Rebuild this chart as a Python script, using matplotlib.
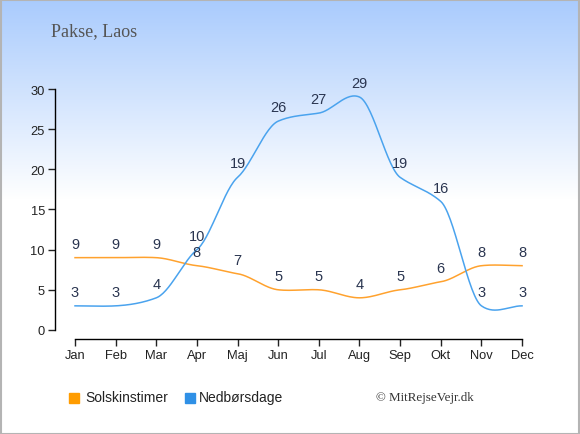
import numpy as np
import matplotlib
matplotlib.use('Agg')
import matplotlib.pyplot as plt
from matplotlib.patches import Rectangle

# Data
months = ['Jan', 'Feb', 'Mar', 'Apr', 'Maj', 'Jun', 'Jul', 'Aug', 'Sep', 'Okt', 'Nov', 'Dec']
sol = [9, 9, 9, 8, 7, 5, 5, 4, 5, 6, 8, 8]
regn = [3, 3, 4, 10, 19, 26, 27, 29, 19, 16, 3, 3]

ORANGE = '#ffa22e'
BLUE = '#4aa3ee'
LBL = '#2a3550'


def smooth(y, k=0.55, n=30):
    """ Cardinal spline through the points (only for drawing). """
    y = np.asarray(y, dtype=float)
    N = y.size
    m = np.zeros(N)
    m[1:-1] = k * (y[2:] - y[:-2]) / 2
    m[0] = k * (y[1] - y[0])
    m[-1] = k * (y[-1] - y[-2])
    xs, ys = [], []
    t = np.linspace(0, 1, n, endpoint=False)
    for i in range(N - 1):
        h00 = 2*t**3 - 3*t**2 + 1
        h10 = t**3 - 2*t**2 + t
        h01 = -2*t**3 + 3*t**2
        h11 = t**3 - t**2
        xs.append(i + t)
        ys.append(h00*y[i] + h10*m[i] + h01*y[i+1] + h11*m[i+1])
    xs.append([N - 1])
    ys.append([y[-1]])
    return np.concatenate(xs), np.concatenate(ys)


fig = plt.figure(figsize=(5.8, 4.35), dpi=100)

# Baggrund med gradient
bg = fig.add_axes([0, 0, 1, 1], zorder=-10)
H = 435
top = np.array([169, 203, 253]) / 255.0
frac = np.clip(np.arange(H) / 200.0, 0, 1)[:, None]
grad = top[None, :] * (1 - frac) + np.ones(3)[None, :] * frac
bg.imshow(grad[:, None, :].repeat(2, axis=1), aspect='auto', extent=[0, 1, 0, 1])
bg.set_xlim(0, 1)
bg.set_ylim(0, 1)
bg.axis('off')
bg.add_patch(Rectangle((0.001, 0.001), 0.998, 0.997, fill=False,
                       edgecolor='#b4b4b4', lw=1.5, transform=bg.transAxes))

ax = fig.add_axes([0.0943, 0.2189, 0.8198, 0.5742])
ax.patch.set_alpha(0)

x = np.arange(len(months))
xs, ys = smooth(sol)
ax.plot(xs, ys, color=ORANGE, lw=1.1)
xs, ys = smooth(regn)
ax.plot(xs, ys, color=BLUE, lw=1.1)

for i in range(len(months)):
    ax.annotate(str(sol[i]), (x[i], sol[i]), xytext=(0, 10), textcoords='offset points',
                ha='center', va='center', fontsize=10.5, color=LBL,
                family='Liberation Sans', annotation_clip=False)
    ax.annotate(str(regn[i]), (x[i], regn[i]), xytext=(0, 10), textcoords='offset points',
                ha='center', va='center', fontsize=10.5, color=LBL,
                family='Liberation Sans', annotation_clip=False)

ax.set_xlim(-0.5, 11.2)
ax.set_ylim(-1.1, 30)
ax.set_xticks(x)
ax.set_xticklabels(months)
ax.set_yticks([0, 5, 10, 15, 20, 25, 30])
for s in ['top', 'right']:
    ax.spines[s].set_visible(False)
ax.spines['left'].set_bounds(0, 30)
ax.spines['bottom'].set_bounds(0, 11)
ax.spines['left'].set_linewidth(1)
ax.spines['bottom'].set_linewidth(1)
ax.tick_params(length=5, width=1, labelsize=9.3, colors='#222222', pad=2)
for lab in ax.get_xticklabels() + ax.get_yticklabels():
    lab.set_family('Liberation Sans')

# Titel og tekst
fig.text(51 / 580, 1 - 32 / 435, 'Pakse, Laos', fontsize=13, color='#555555',
         family='Liberation Serif', va='center', ha='left')

fig.patches.append(Rectangle((69 / 580, 1 - 404 / 435), 10 / 580, 10 / 435,
                             color='#ff9c00', transform=fig.transFigure, figure=fig))
fig.text(85 / 580, 1 - 398 / 435, 'Solskinstimer', fontsize=10, color='#222222',
         family='Liberation Sans', va='center')
fig.patches.append(Rectangle((185 / 580, 1 - 404 / 435), 10 / 580, 10 / 435,
                             color='#2f90e6', transform=fig.transFigure, figure=fig))
fig.text(199 / 580, 1 - 398 / 435, 'Nedbørsdage', fontsize=10, color='#222222',
         family='Liberation Sans', va='center')
fig.text(474 / 580, 1 - 398 / 435, '© MitRejseVejr.dk', fontsize=9.4, color='#333333',
         family='Liberation Serif', va='center', ha='right')

fig.savefig('out.png', dpi=100)
